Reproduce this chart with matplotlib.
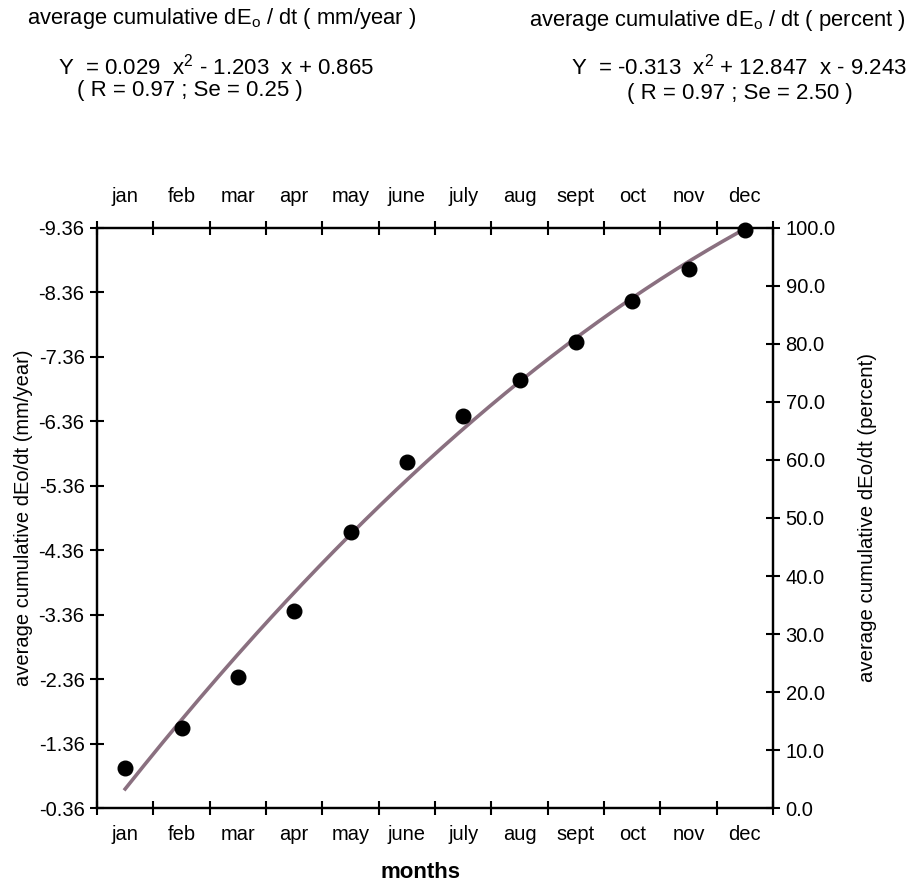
import numpy as np
import matplotlib
matplotlib.use("Agg")
import matplotlib.pyplot as plt

plt.rcParams['font.family'] = ['Liberation Sans', 'DejaVu Sans']
plt.rcParams['mathtext.fontset'] = 'custom'
plt.rcParams['mathtext.rm'] = 'Liberation Sans'
plt.rcParams['mathtext.it'] = 'Liberation Sans'

# data
months = ["jan", "feb", "mar", "apr", "may", "june", "july", "aug", "sept", "oct", "nov", "dec"]
month_num = np.arange(1, 13)
percent = [6.9, 13.8, 22.6, 34.0, 47.6, 59.7, 67.6, 73.8, 80.3, 87.4, 92.9, 99.7]
left_ticks = [-0.36, -1.36, -2.36, -3.36, -4.36, -5.36, -6.36, -7.36, -8.36, -9.36]
right_ticks = [0, 10, 20, 30, 40, 50, 60, 70, 80, 90, 100]
# fitted curve coefficients (percent), as printed on the chart
fit_a, fit_b, fit_c = -0.313, 12.847, -9.243

fig = plt.figure(figsize=(9.1, 8.86), dpi=100)
ax = fig.add_axes([0.1066, 0.088, 0.7429, 0.6547])
ax2 = ax.twinx()

fs = 14.5
tfs = 15.8
ax.set_xlim(0.5, 12.5)
ax.set_ylim(-0.36, -9.36)
ax.set_yticks(left_ticks)
ax.set_yticklabels([f"{v:.2f}" for v in left_ticks])
ax.set_xticks(np.arange(0.5, 13, 1))
ax.set_xticklabels([])
ax.set_xticks(month_num, minor=True)
ax.set_xticklabels(months, minor=True)
ax.tick_params(axis='x', which='major', direction='inout', length=10, width=1.5,
               top=True, bottom=True)
ax.tick_params(axis='x', which='minor', length=0, labelsize=fs, pad=12)
ax.tick_params(axis='y', direction='inout', length=10, width=1.5, labelsize=fs, pad=4)

# month labels on top, with their own padding
top = ax.secondary_xaxis('top')
top.set_xticks(month_num)
top.set_xticklabels(months)
top.tick_params(length=0, labelsize=fs, pad=16)
top.spines['top'].set_visible(False)

ax2.set_ylim(0, 100)
ax2.set_yticks(right_ticks)
ax2.set_yticklabels([f"{v:.1f}" for v in right_ticks])
ax2.tick_params(axis='y', direction='inout', length=10, width=1.5, labelsize=fs, pad=4)

for a in (ax, ax2):
    for s in a.spines.values():
        s.set_linewidth(1.6)

xs = np.linspace(1, 12, 200)
ax2.plot(xs, fit_a * xs**2 + fit_b * xs + fit_c, color='#8a7080', lw=2.6, zorder=2)
ax2.plot(month_num, percent, 'o', color='black', ms=10.5, zorder=3, clip_on=False)

ax.set_ylabel("average cumulative dEo/dt (mm/year)", fontsize=fs, labelpad=4)
ax2.set_ylabel("average cumulative dEo/dt (percent)", fontsize=14.7, labelpad=16)
fig.text(420 / 910, 1 - 872 / 886, "months", fontsize=16, fontweight='bold',
         ha='center', va='center')

fig.text(0.03, 0.979, r"average cumulative dE$_\mathregular{o}$ / dt ( mm/year )",
         fontsize=tfs, ha='left', va='center')
fig.text(0.237, 0.925, r"Y  = 0.029  x$^\mathregular{2}$ - 1.203  x + 0.865",
         fontsize=16, ha='center', va='center')
fig.text(0.209, 0.898, "( R = 0.97 ; Se = 0.25 )", fontsize=16, ha='center', va='center')
fig.text(0.995, 0.977, r"average cumulative dE$_\mathregular{o}$ / dt ( percent )",
         fontsize=tfs, ha='right', va='center')
fig.text(0.812, 0.925, r"Y  = -0.313  x$^\mathregular{2}$ + 12.847  x - 9.243",
         fontsize=16, ha='center', va='center')
fig.text(0.813, 0.895, "( R = 0.97 ; Se = 2.50 )", fontsize=16, ha='center', va='center')

fig.savefig("out.png", dpi=100)
